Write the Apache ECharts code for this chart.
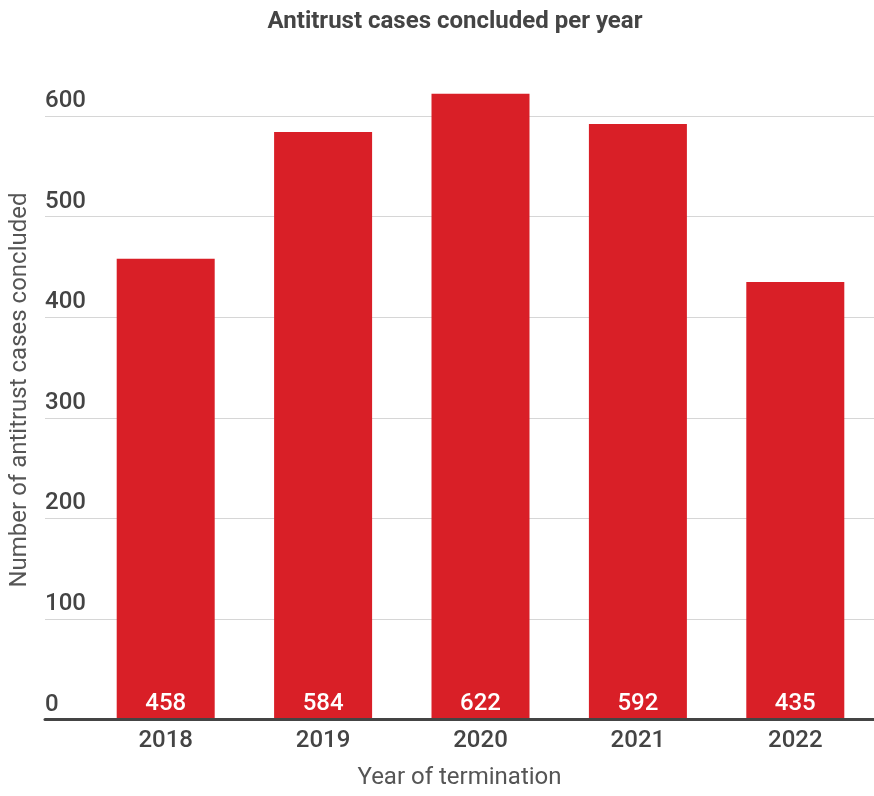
<!DOCTYPE html>
<html>
<head>
<meta charset="utf-8">
<script src="https://cdn.jsdelivr.net/npm/echarts@6/dist/echarts.min.js"></script>
<style>
  html, body { margin: 0; padding: 0; background: #fff; }
  #chart { width: 874px; height: 796px; }
</style>
</head>
<body>
<div id="chart"></div>
<script>
// 数据
const years = ["2018", "2019", "2020", "2021", "2022"];
const cases = [458, 584, 622, 592, 435];

const fontFamily = "Roboto, 'Noto Sans', sans-serif";
const textColor = "#444";

const chart = echarts.init(document.getElementById("chart"));

const option = {
  animation: false,
  title: {
    text: "Antitrust cases concluded per year",
    left: 450,
    top: 5,
    textAlign: "center",
    textStyle: { fontFamily, fontSize: 24, fontWeight: "bold", color: textColor },
  },
  // grid 0: gridlines + baseline, grid 1: bars (offset to the right)
  grid: [
    { left: 45, right: 0, top: 116, bottom: 76.4 },
    { left: 87, right: 0, top: 15.4, bottom: 76.4 },
  ],
  graphic: [
    {
      type: "text",
      x: 20,
      y: 390,
      rotation: Math.PI / 2,
      style: {
        text: "Number of antitrust cases concluded",
        font: "24px " + fontFamily,
        fill: "#555",
        align: "center",
        verticalAlign: "middle",
      },
    },
  ],
  xAxis: [
    {
      gridIndex: 0,
      type: "value",
      min: 0,
      max: 1,
      z: 5,
      name: "Year of termination",
      nameLocation: "middle",
      nameGap: 46,
      nameTextStyle: { fontFamily, fontSize: 24, color: "#555" },
      axisLine: { show: true, onZero: false, lineStyle: { color: "#444", width: 3 } },
      axisTick: { show: false },
      axisLabel: { show: false },
      splitLine: { show: false },
    },
    {
      gridIndex: 1,
      type: "category",
      data: years,
      axisLine: { show: false },
      axisTick: { show: false },
      axisLabel: { fontFamily, fontSize: 24, fontWeight: 500, color: textColor, margin: 9 },
    },
  ],
  yAxis: [
    {
      gridIndex: 0,
      type: "value",
      min: 0,
      max: 600,
      interval: 100,
      axisLine: { show: false },
      axisTick: { show: false },
      axisLabel: {
        inside: true,
        margin: 0,
        align: "left",
        verticalAlign: "bottom",
        padding: [0, 0, 3, 0],
        fontFamily,
        fontSize: 24,
        fontWeight: 500,
        color: textColor,
      },
      splitLine: { lineStyle: { color: "#d6d6d6", width: 1 } },
    },
    {
      gridIndex: 1,
      type: "value",
      min: 0,
      max: 700,
      show: false,
    },
  ],
  series: [
    {
      type: "bar",
      xAxisIndex: 1,
      yAxisIndex: 1,
      data: cases,
      barWidth: 98,
      itemStyle: { color: "#d91f27" },
      label: {
        show: true,
        position: "insideBottom",
        distance: 4,
        fontFamily,
        fontSize: 24,
        fontWeight: 500,
        color: "#fff",
      },
    },
  ],
};

chart.setOption(option);
window.addEventListener("resize", () => {
  chart.resize();
});
</script>
</body>
</html>
